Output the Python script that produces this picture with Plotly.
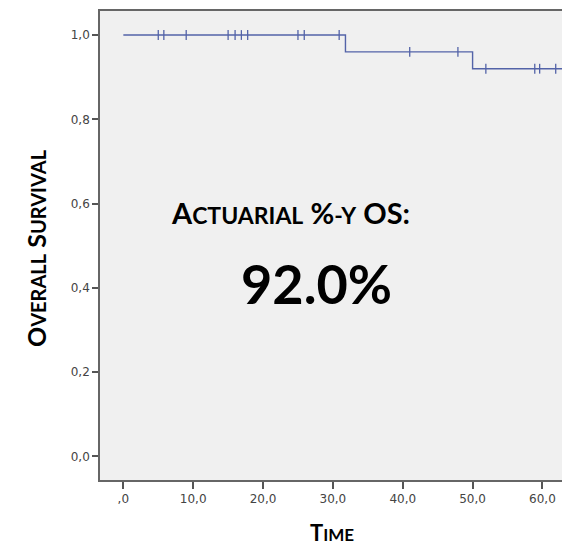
import plotly.graph_objects as go

# ---- data ----
event_times = [0.0, 31.8, 50.0, 63.0]
survival = [1.0, 0.96, 0.92, 0.92]
censor_times = [5.0, 5.8, 9.0, 15.0, 16.0, 16.9, 17.8, 25.0, 25.9, 30.9,
                41.0, 47.9, 51.9, 58.9, 59.6, 61.9]
x_ticks = [0, 10, 20, 30, 40, 50, 60]
x_tick_labels = [",0", "10,0", "20,0", "30,0", "40,0", "50,0", "60,0"]
y_ticks = [0.0, 0.2, 0.4, 0.6, 0.8, 1.0]
y_tick_labels = ["0,0", "0,2", "0,4", "0,6", "0,8", "1,0"]


def surv_at(t):
    s = survival[0]
    for et, sv in zip(event_times, survival):
        if t >= et:
            s = sv
    return s


censor_y = [surv_at(t) for t in censor_times]

LINE = "#5363A8"
fig = go.Figure()
fig.add_trace(go.Scatter(x=event_times, y=survival, mode="lines",
                         line=dict(color=LINE, width=1.4, shape="hv"),
                         hoverinfo="skip", showlegend=False))
fig.add_trace(go.Scatter(x=censor_times, y=censor_y, mode="markers",
                         marker=dict(symbol="line-ns", size=7,
                                     line=dict(color=LINE, width=1.3)),
                         hoverinfo="skip", showlegend=False))

F = "Lato"

line1 = ("A<span style='font-size:23px'>CTUARIAL</span> %"
         "<span style='font-size:23px'>-Y</span> OS:")
fig.add_annotation(x=24.0, y=0.578, xref="x", yref="y", text=line1,
                   showarrow=False, font=dict(family=F, size=29, color="black",
                                              weight="bold"))
fig.add_annotation(x=27.7, y=0.41, xref="x", yref="y", text="92.0%",
                   showarrow=False, font=dict(family=F, size=54, color="black",
                                              weight="bold"))
fig.add_annotation(x=19, y=248, xref="paper", yref="paper", text=(
    "O<span style='font-size:20px'>VERALL</span> S"
    "<span style='font-size:20px'>URVIVAL</span>"),
    showarrow=False, textangle=-90,
    font=dict(family=F, size=25, color="black", weight="bold"))
fig.add_annotation(x=332, y=548, xref="paper", yref="paper",
                   text="T<span style='font-size:17px'>IME</span>",
                   showarrow=False,
                   font=dict(family=F, size=22, color="black", weight="bold"))

# convert paper-pixel annotations to paper fractions
W, H = 562, 549
ML, MR, MT, MB = 100, 0, 11, 69
for a in fig.layout.annotations:
    if a.xref == "paper":
        a.x = (a.x - ML) / (W - ML - MR)
        a.y = (H - MB - a.y) / (H - MT - MB)

fig.update_layout(
    width=W, height=H,
    margin=dict(l=ML, r=MR, t=MT, b=MB),
    paper_bgcolor="white", plot_bgcolor="#F0F0F0",
    showlegend=False,
)
fig.update_xaxes(range=[-3.34, 62.8], tickvals=x_ticks, ticktext=x_tick_labels,
                 showgrid=False, zeroline=False, showline=True, mirror=True,
                 linecolor="#666666", linewidth=1.6, ticks="outside",
                 ticklen=7, tickwidth=1.6, tickcolor="#555555",
                 tickfont=dict(family="DejaVu Sans", size=12, color="#444444"))
fig.update_yaxes(range=[-0.056, 1.057], tickvals=y_ticks, ticktext=y_tick_labels,
                 showgrid=False, zeroline=False, showline=True,
                 linecolor="#666666", linewidth=1.6, ticks="outside",
                 ticklen=6, tickwidth=1.6, tickcolor="#555555",
                 tickfont=dict(family="DejaVu Sans", size=12, color="#444444"))

fig.write_html("out.html")
